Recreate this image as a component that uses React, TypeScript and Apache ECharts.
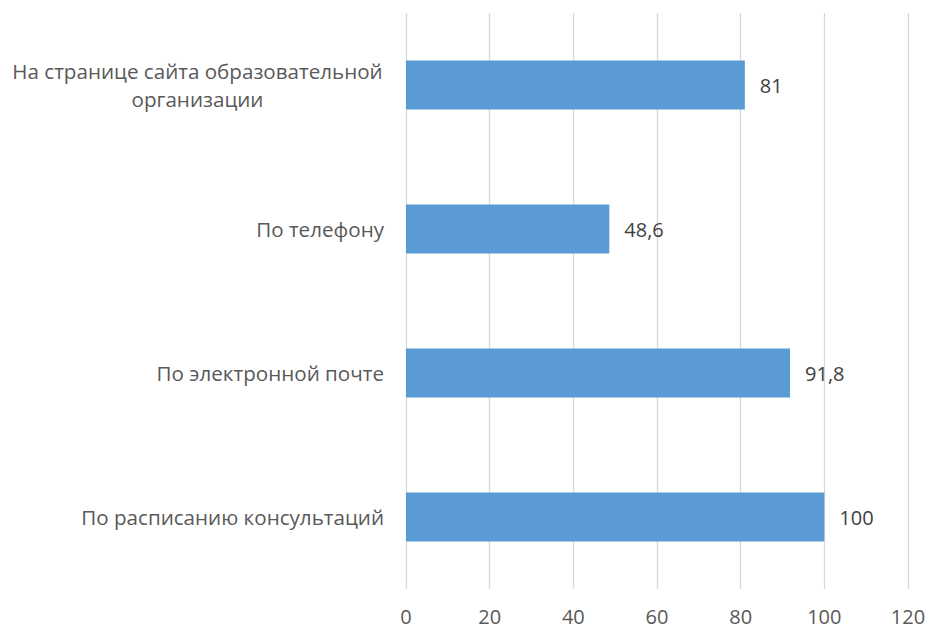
import React, { useEffect, useRef } from "react";
import * as echarts from "echarts";

const categories = [
  "На странице сайта образовательной\nорганизации",
  "По телефону",
  "По электронной почте",
  "По расписанию консультаций",
];
const values = [81, 48.6, 91.8, 100];
const valueLabels = ["81", "48,6", "91,8", "100"];

export default function App() {
  const ref = useRef<HTMLDivElement>(null);
  useEffect(() => {
    if (!ref.current) return;
    const chart = echarts.init(ref.current, null, { renderer: "svg" });
    const font = "'Open Sans', 'Noto Sans', sans-serif";
    const fontSize = 20;
    const catSize = 20.6;
    const canvas = document.createElement("canvas");
    const ctx = canvas.getContext("2d")!;
    ctx.font = `${catSize}px 'Open Sans'`;
    const measure = (s: string) => Math.ceil(ctx.measureText(s).width) + 2;
    chart.setOption({
      animation: false,
      backgroundColor: "#ffffff",
      grid: { left: 406, right: 23, top: 13, bottom: 39, containLabel: false },
      xAxis: {
        type: "value",
        min: 0,
        max: 120,
        interval: 20,
        axisLine: { show: false },
        axisTick: { show: false },
        splitLine: { show: true, lineStyle: { color: "#D9D9D9", width: 1.3 } },
        axisLabel: { color: "#595959", fontSize, lineHeight: 18, fontFamily: font, margin: 18 },
      },
      yAxis: {
        type: "category",
        inverse: true,
        data: categories,
        axisLine: { show: false },
        axisTick: { show: false },
        axisLabel: {
          color: "#595959",
          fontSize: catSize,
          fontFamily: font,
          margin: 22,
          lineHeight: 28,
          align: "right",
          formatter: (v: string) => {
            const lines = v.split("\n");
            if (lines.length < 2) return v;
            return lines.map((l) => `{c|${l}}`).join("\n");
          },
          rich: {
            c: {
              width: measure("На странице сайта образовательной"),
              align: "center",
              color: "#595959",
              fontSize: catSize,
              fontFamily: font,
              lineHeight: 28,
            },
          },
        },
      },
      series: [
        {
          type: "bar",
          data: values,
          barWidth: 49,
          itemStyle: { color: "#5B9BD5" },
          label: {
            show: true,
            position: "right",
            distance: 15,
            color: "#404040",
            fontSize,
            fontFamily: font,
            formatter: (p: any) => valueLabels[p.dataIndex],
          },
        },
      ],
    });
    return () => chart.dispose();
  }, []);
  return (
    <div
      ref={ref}
      style={{ position: "fixed", left: 0, top: 0, width: 931, height: 628, background: "#fff" }}
    />
  );
}
